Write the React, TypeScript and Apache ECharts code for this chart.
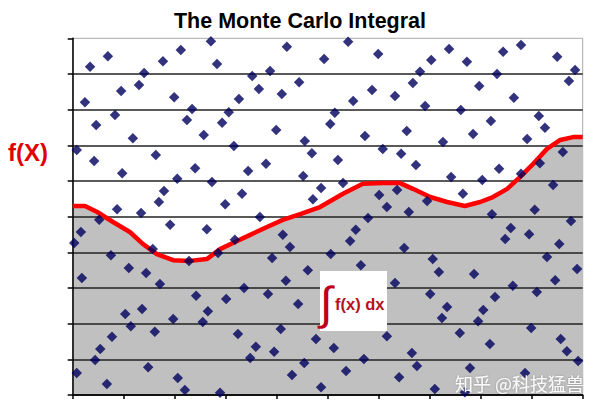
import React, { useEffect, useRef } from "react";
import * as echarts from "echarts";

const titleText = "The Monte Carlo Integral";
const yAxisLabel = "f(X)";
const integralLabel = "f(x) dx";
const watermark = "知乎 @科技猛兽";

// red curve f(x), read on a 0..10 x 0..10 grid
const curveX = [0, 0.24, 0.48, 0.79, 1.12, 1.38, 1.65, 1.97, 2.3, 2.63, 2.89, 3.14, 3.48, 3.81, 4.12, 4.46, 4.85, 5.3, 5.69, 6.08, 6.42, 6.67, 7.01, 7.34, 7.69, 7.99, 8.24, 8.52, 8.77, 9.03, 9.3, 9.56, 9.81, 10];
const curveY = [5.3, 5.3, 5.13, 4.85, 4.57, 4.23, 3.95, 3.78, 3.76, 3.81, 4.09, 4.26, 4.49, 4.71, 4.91, 5.07, 5.27, 5.64, 5.92, 5.94, 5.94, 5.78, 5.55, 5.41, 5.3, 5.41, 5.55, 5.78, 6.11, 6.48, 6.9, 7.15, 7.23, 7.23];

// random sample points
const pointX = [
  0.08, 0.34, 0.24, 0.46, 0.42, 0.69, 0.95, 0.83, 0.97, 1.18, 1.3, 1.4, 1.63, 1.77, 1.99, 2.12, 2.24, 2.34, 2.05, 1.79,
  1.69, 2.4, 2.57, 2.71, 2.83, 2.73, 2.93, 3.06, 3.16, 3.26, 3.44, 3.32, 3.52, 3.65, 3.79, 3.87, 3.99, 4.1, 4.2, 4.44,
  2.99, 0.87, 1.34, 4.93, 5.4, 5.99, 4.55, 4.69, 4.52, 5.05, 5.14, 5.5, 5.2, 5.3, 4.87, 4.71, 5.73, 5.87, 6.08, 6.01,
  6.32, 6.36, 6.44, 6.55, 6.67, 6.73, 6.81, 6.91, 7.03, 6.95, 7.26, 7.38, 7.42, 7.61, 7.65, 7.73, 7.85, 7.97, 8.03, 8.2,
  8.32, 8.36, 8.44, 8.65, 8.79, 8.79, 8.91, 9.14, 9.26, 9.16, 9.42, 9.5, 9.61, 9.73, 9.85, 8.22, 9.06, 6.16, 6.59,
  0.03, 0.16, 0.52, 0.18, 0.75, 1.1, 1.44, 1.57, 1.71, 1.91, 2.28, 2.42, 2.63, 2.85, 3.01, 3.18, 3.36, 3.67, 3.91, 3.83,
  4.12, 4.26, 4.18, 4.42, 1.03, 1.14, 1.36, 1.61, 1.97, 2.55, 2.65, 0.77, 0.54, 0.44, 0.08, 0.67, 1.48, 2.06, 2.2, 2.89,
  3.24, 3.59, 3.48, 4.08, 3.95, 4.3, 4.54, 4.61, 5.06, 5.44, 5.55, 5.79, 5.65, 6.32, 6.5, 7.06, 7.18, 7.01, 7.34, 7.24,
  7.87, 8.05, 7.95, 8.28, 8.63, 8.48, 8.59, 8.95, 9.3, 9.54, 9.46, 9.1, 9.77, 9.89, 8.99, 9.57, 9.69, 9.91, 4.77, 5.12,
  5.71, 6.16, 5.36, 4.87, 6.65, 6.75, 6.4, 7.1, 7.59, 8.18, 7.79, 7.69, 8.87,
];
const pointY = [
  6.87, 9.2, 8.21, 7.57, 6.56, 9.5, 8.52, 7.85, 6.22, 7.2, 8.69, 9.03, 6.73, 9.36, 8.35, 9.67, 7.71, 8.02, 6.06, 5.72,
  5.41, 6.36, 7.29, 9.92, 9.28, 5.97, 7.63, 7.93, 6.98, 8.3, 6.28, 5.64, 8.94, 8.58, 6.48, 9.08, 7.43, 8.44, 9.76, 8.77,
  5.35, 5.21, 5.1, 9.42, 9.9, 9.56, 7.12, 6.78, 6.14, 7.6, 7.91, 8.24, 6.59, 5.94, 5.8, 5.49, 7.26, 8.55, 6.9, 5.61,
  8.38, 5.75, 6.76, 7.4, 8.75, 6.45, 9.06, 8.1, 9.39, 5.44, 7.09, 9.7, 6.11, 7.99, 5.64, 9.34, 7.32, 8.66, 6.03, 7.68,
  9.0, 6.34, 9.62, 8.33, 9.81, 6.2, 7.18, 7.82, 7.49, 6.5, 5.89, 9.48, 6.81, 8.8, 9.11, 5.07, 5.19, 5.27, 5.13,
  4.26, 4.57, 4.91, 3.28, 3.92, 3.56, 3.42, 4.09, 3.11, 4.77, 3.76, 2.78, 4.65, 3.98, 2.69, 4.35, 3.0, 4.99, 3.84, 2.83,
  4.49, 4.15, 3.2, 2.55, 2.27, 1.93, 2.41, 1.77, 2.13, 2.05, 2.35, 1.63, 1.29, 0.98, 0.62, 0.31, 0.78, 0.48, 0.14, 0.06,
  1.71, 1.35, 1.04, 1.85, 1.21, 0.56, 0.9, 3.5, 3.95, 4.32, 4.63, 4.96, 3.64, 3.14, 4.12, 3.81, 3.45, 2.83, 2.47, 2.16,
  3.39, 2.38, 2.07, 2.75, 3.06, 4.37, 4.68, 4.51, 3.87, 4.23, 3.22, 2.89, 4.88, 3.53, 1.88, 1.57, 1.23, 0.95, 1.57, 1.32,
  1.01, 1.65, 0.67, 0.22, 1.18, 0.81, 0.5, 0.17, 1.74, 1.43, 0.76, 0.08, 0.62,
];

export default function App() {
  const ref = useRef<HTMLDivElement>(null);
  useEffect(() => {
    document.body.style.margin = "0";
    if (!ref.current) return;
    const chart = echarts.init(ref.current, null, { renderer: "svg" });
    const curve = curveX.map((x, i) => [x, curveY[i]]);
    const points = pointX.map((x, i) => [x, pointY[i]]);
    chart.setOption({
      animation: false,
      backgroundColor: "#ffffff",
      title: {
        text: titleText,
        left: "center",
        top: 5,
        textStyle: { fontFamily: "Liberation Sans", fontWeight: "bold", fontSize: 21.5, color: "#000" },
      },
      grid: {
        left: 72.7,
        right: 17.3,
        top: 38.3,
        bottom: 16,
        show: true,
        backgroundColor: "#ffffff",
        borderColor: "#a8a8a8",
        borderWidth: 1,
      },
      xAxis: {
        type: "value",
        min: 0,
        max: 10,
        interval: 1,
        z: 3,
        axisLine: { lineStyle: { color: "#000", width: 1.5 } },
        axisTick: { show: true, length: 4, lineStyle: { color: "#000", width: 1.5 } },
        axisLabel: { show: false },
        splitLine: { show: false },
      },
      yAxis: {
        type: "value",
        min: 0,
        max: 10,
        interval: 1,
        z: 3,
        axisLine: { show: true, lineStyle: { color: "#000", width: 1.5 } },
        axisTick: { show: true, length: 5, lineStyle: { color: "#000", width: 1.5 } },
        axisLabel: { show: false },
        splitLine: { show: true, showMaxLine: false, lineStyle: { color: "#222", width: 1.6 } },
      },
      series: [
        {
          type: "line",
          data: curve,
          showSymbol: false,
          z: 1,
          lineStyle: { width: 0 },
          areaStyle: { color: "#c0c0c0", opacity: 1 },
        },
        {
          type: "line",
          data: curve,
          showSymbol: false,
          z: 5,
          lineStyle: { color: "#ff0000", width: 4.5 },
        },
        {
          type: "scatter",
          data: points,
          symbol: "diamond",
          symbolSize: 10.5,
          z: 6,
          itemStyle: { color: "#00005c" },
        },
      ],
      graphic: [
        {
          type: "text",
          left: 8,
          top: 140,
          style: { text: yAxisLabel, fontFamily: "Liberation Sans", fontWeight: "bold", fontSize: 24, fill: "#e00000" },
        },
        {
          type: "rect",
          z: 20,
          shape: { x: 320, y: 271, width: 67, height: 60 },
          style: { fill: "#ffffff" },
        },
        {
          type: "text",
          z: 21,
          x: 320,
          y: 303,
          style: { text: "∫", fontFamily: "Liberation Sans", fontSize: 46, fill: "#c0001a", verticalAlign: "middle" },
        },
        {
          type: "text",
          z: 21,
          x: 335,
          y: 304,
          style: { text: integralLabel, fontFamily: "Liberation Sans", fontWeight: "bold", fontSize: 16.5, fill: "#b5121b", verticalAlign: "middle" },
        },
        {
          type: "text",
          z: 30,
          x: 455,
          y: 383,
          style: {
            text: watermark,
            fontFamily: "Noto Sans CJK SC",
            fontSize: 18,
            fill: "rgba(255,255,255,0.92)",
            verticalAlign: "middle",
            textShadowColor: "rgba(0,0,0,0.25)",
            textShadowBlur: 2,
          },
        },
      ],
    });
    return () => chart.dispose();
  }, []);
  return <div ref={ref} style={{ width: 600, height: 411 }} />;
}
